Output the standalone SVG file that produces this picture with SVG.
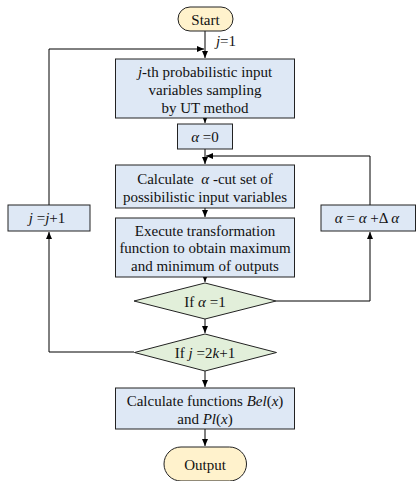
<svg xmlns="http://www.w3.org/2000/svg" width="416" height="481" viewBox="0 0 416 481">
<defs>
<marker id="ah" markerWidth="8" markerHeight="8" refX="7" refY="4" orient="auto" markerUnits="userSpaceOnUse">
<path d="M0,1 L7,4 L0,7 Z" fill="#000"/>
</marker>
<style>
.box{fill:#dee8f5;stroke:#222;stroke-width:1}
.dia{fill:#e2efda;stroke:#222;stroke-width:1}
.term{fill:#fff2cc;stroke:#222;stroke-width:1}
.t{font-family:"Liberation Serif","Times New Roman",serif;font-size:15px;fill:#111;text-anchor:middle}
.i{font-style:italic}
.c{fill:none;stroke:#000;stroke-width:1}
</style>
</defs>
<rect width="416" height="481" fill="#fff"/>
<g id="connectors">
<path class="c" d="M205,31 V58" marker-end="url(#ah)"/>
<path class="c" d="M49,205 V49 H204" marker-end="url(#ah)"/>
<path class="c" d="M205,118 V123" marker-end="url(#ah)"/>
<path class="c" d="M205,149 V164" marker-end="url(#ah)"/>
<path class="c" d="M370,205 V156 H206" marker-end="url(#ah)"/>
<path class="c" d="M205,208 V217" marker-end="url(#ah)"/>
<path class="c" d="M205,277 V282" marker-end="url(#ah)"/>
<path class="c" d="M276,301 H370 V232" marker-end="url(#ah)"/>
<path class="c" d="M205,319 V333" marker-end="url(#ah)"/>
<path class="c" d="M134,352 H49 V232" marker-end="url(#ah)"/>
<path class="c" d="M205,371 V387" marker-end="url(#ah)"/>
<path class="c" d="M205,429 V446" marker-end="url(#ah)"/>
<text class="t" x="226" y="46"><tspan class="i">j</tspan>=1</text>
</g>
<g id="start">
<rect class="term" x="178" y="7" width="55" height="24" rx="12"/>
<text class="t" x="205.5" y="24.5">Start</text>
</g>
<g id="sampling">
<rect class="box" x="115.5" y="59" width="179" height="59"/>
<text class="t" x="205" y="77"><tspan class="i">j</tspan>-th probabilistic input</text>
<text class="t" x="205" y="95">variables sampling</text>
<text class="t" x="205" y="113">by UT method</text>
</g>
<g id="alpha0">
<rect class="box" x="177.5" y="124" width="55" height="25"/>
<text class="t" x="205" y="142" xml:space="preserve"><tspan class="i">α</tspan> =0</text>
</g>
<g id="cutset">
<rect class="box" x="115.5" y="165" width="179" height="43"/>
<text class="t" x="205" y="183.5" xml:space="preserve">Calculate  <tspan class="i">α</tspan> -cut set of</text>
<text class="t" x="205" y="202">possibilistic input variables</text>
</g>
<g id="execute">
<rect class="box" x="115.5" y="218" width="179" height="59"/>
<text class="t" x="205" y="235.5">Execute transformation</text>
<text class="t" x="205" y="253">function to obtain maximum</text>
<text class="t" x="205" y="270.5">and minimum of outputs</text>
</g>
<g id="if-alpha">
<polygon class="dia" points="205,283 276,301 205,319 134,301"/>
<text class="t" x="205" y="306.5" xml:space="preserve">If <tspan class="i">α</tspan> =1</text>
</g>
<g id="if-j">
<polygon class="dia" points="205,334 276.5,352.5 205,371 134.5,352.5"/>
<text class="t" x="205" y="357.5">If <tspan class="i">j</tspan> =2<tspan class="i">k</tspan>+1</text>
</g>
<g id="j-inc">
<rect class="box" x="8" y="205" width="82" height="26"/>
<text class="t" x="47" y="223"><tspan class="i">j</tspan> =<tspan class="i">j</tspan>+1</text>
</g>
<g id="alpha-inc">
<rect class="box" x="321" y="205" width="94.5" height="26"/>
<text class="t" x="367" y="223" xml:space="preserve"><tspan class="i">α</tspan> = <tspan class="i">α</tspan> +Δ <tspan class="i">α</tspan></text>
</g>
<g id="belpl">
<rect class="box" x="115.5" y="388" width="179" height="41"/>
<text class="t" x="205" y="405.5">Calculate functions <tspan class="i">Bel</tspan>(<tspan class="i">x</tspan>)</text>
<text class="t" x="205" y="423.5">and <tspan class="i">Pl</tspan>(<tspan class="i">x</tspan>)</text>
</g>
<g id="output">
<rect class="term" x="164" y="447" width="82.5" height="34" rx="17"/>
<text class="t" x="205" y="470">Output</text>
</g>
</svg>
